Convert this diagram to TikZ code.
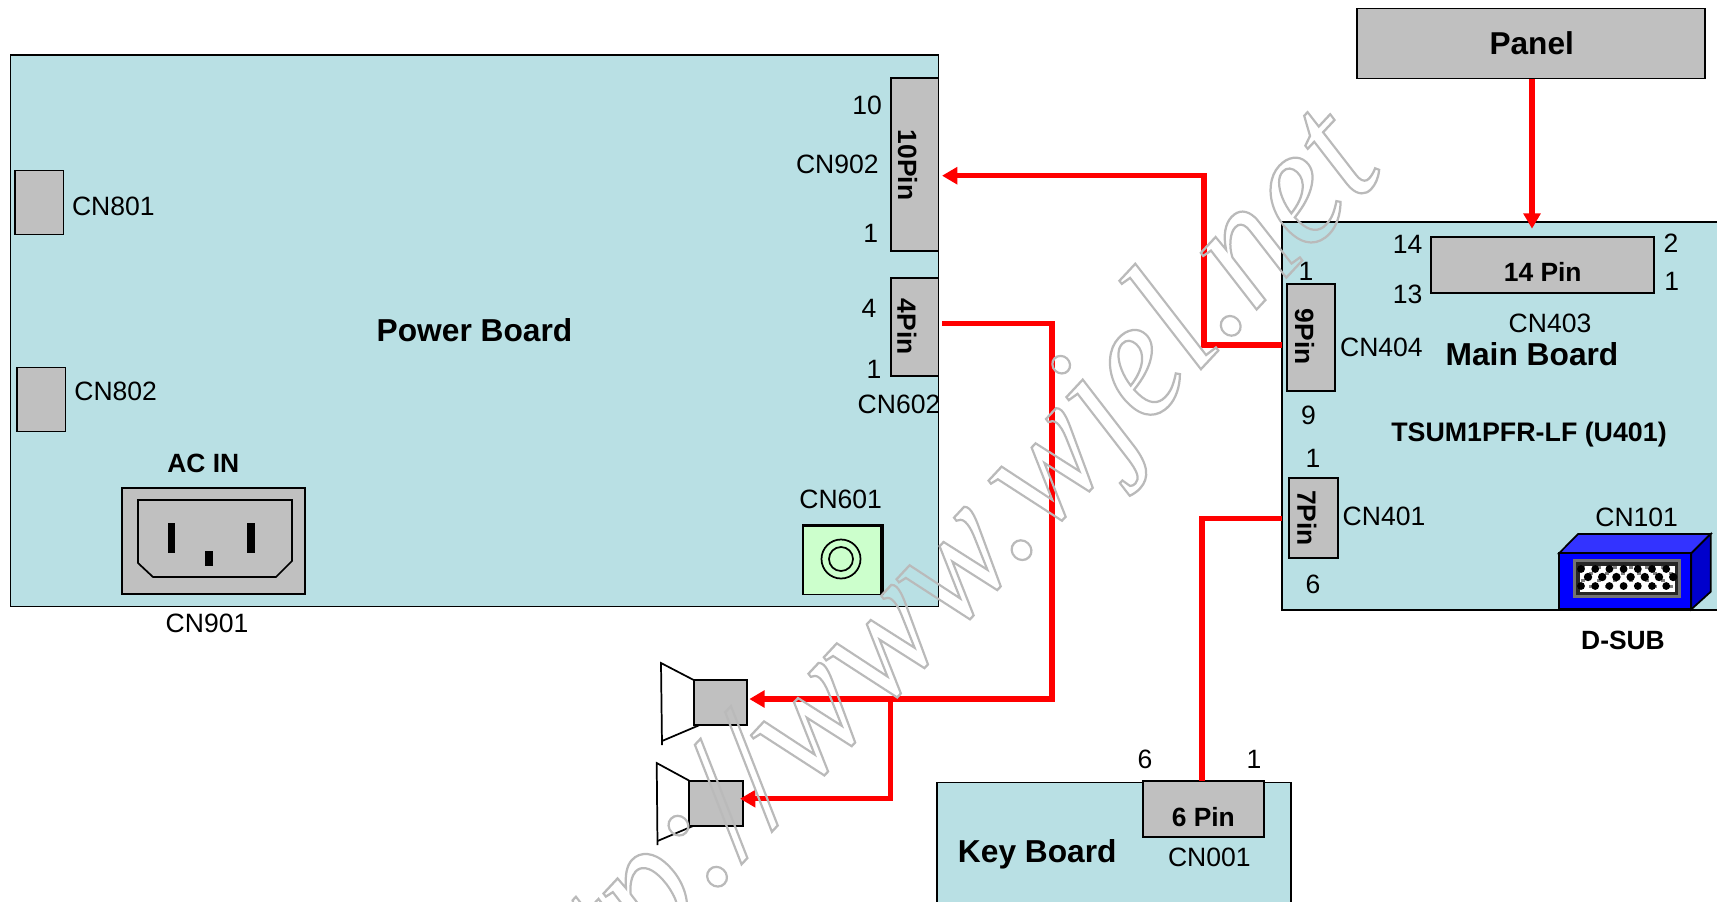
\documentclass[tikz,border=0pt]{standalone}
\usepackage{graphicx}
\usepackage{fontspec}
\setmainfont{Liberation Sans}
\newfontfamily\wmfont{Liberation Serif}
\usetikzlibrary{arrows.meta}
\definecolor{boardc}{HTML}{B9E0E4}
\definecolor{grayc}{HTML}{C0C0C0}
\definecolor{jackc}{HTML}{CCFFCC}
\newcommand{\pxbox}[6]{%
  \pgfmathsetmacro{\bxw}{(#4-#2)*0.75}%
  \pgfmathsetmacro{\bxh}{(#5-#3)*0.75}%
  \node[#6,minimum width=\bxw pt,minimum height=\bxh pt] (#1) at ({(#2+#4)/2},{(#3+#5)/2}) {};}
\tikzset{
  boardbox/.style={draw=black,line width=1.3pt,fill=boardc,inner sep=0pt,outer sep=0pt},
  conbox/.style={draw=black,line width=1.3pt,fill=grayc,inner sep=0pt,outer sep=0pt},
  lbl/.style={inner sep=0pt,font=\fontsize{19.9}{22}\selectfont},
  blbl/.style={inner sep=0pt,font=\fontsize{19.8}{22}\selectfont\bfseries},
  bigl/.style={inner sep=0pt,font=\fontsize{23.8}{26}\selectfont\bfseries},
  wire/.style={draw=red,line width=3.8pt,line join=miter},
  wirearrow/.style={wire,-{Triangle[length=11.5pt,width=12.5pt]}},
  thinl/.style={draw=black,line width=1.3pt},
}
\begin{document}
\begin{tikzpicture}[x=0.75pt,y=-0.75pt]
\useasboundingbox (0,0) rectangle (1717,901);
\begin{scope}
\clip (0,0) rectangle (1717,901);
% boards
\pxbox{power}{10.5}{55}{938.5}{606.5}{boardbox}
\pxbox{mainb}{1281.7}{222}{1740}{610}{boardbox}
\pxbox{keyb}{937}{782.5}{1290.7}{930}{boardbox}
\pxbox{panel}{1357}{8.5}{1705}{78.5}{conbox}
% connectors on boards
\pxbox{pin14}{1431}{237}{1654}{293}{conbox}
\pxbox{pin9}{1287}{284}{1335}{391}{conbox}
\pxbox{pin7}{1289}{478}{1338}{558}{conbox}
\pxbox{pin10}{890.7}{78}{938.5}{251}{conbox}
\pxbox{pin4}{890.7}{278}{938.5}{376}{conbox}
\pxbox{cnA}{15}{170.5}{63.5}{234.5}{conbox}
\pxbox{cnB}{17}{367.5}{65.5}{431.5}{conbox}
\pxbox{pin6}{1143}{781}{1264}{837}{conbox}
% AC inlet
\pxbox{acin}{122}{488}{304.7}{594}{conbox}
\draw[thinl] (138,500) -- (292,500) -- (292,561) -- (276,577) -- (153,577) -- (138,563) -- cycle;
\fill (167.7,522.7) rectangle (175.3,552.7);
\fill (246.7,522.7) rectangle (254.7,552.7);
\fill (205.3,550.7) rectangle (213.3,565.7);
% jack
\pxbox{jack}{803}{525}{882}{594.7}{draw=black,line width=1.1pt,fill=jackc,inner sep=0pt}
\fill (802.5,523.5) rectangle (883.5,527);
\fill (880.2,523.5) rectangle (883.5,595);
\draw[thinl] (841,559) circle[radius=19.5];
\draw[thinl] (841,559) circle[radius=12];
% D-SUB
\filldraw[draw=black,line width=1.3pt,fill={rgb,255:red,51;green,51;blue,255}] (1559,553.3) -- (1578,534) -- (1710.7,534) -- (1691.3,553.3) -- cycle;
\filldraw[draw=black,line width=1.3pt,fill={rgb,255:red,0;green,0;blue,204}] (1691.3,553.3) -- (1710.7,534) -- (1710.7,591.7) -- (1691.3,609.3) -- cycle;
\pxbox{dsub}{1559}{553.3}{1691.3}{609.3}{draw=black,line width=1.3pt,fill=blue,inner sep=0pt}
\fill[black!55] (1573,559.3) rectangle (1681,598);
\fill[black!85] (1576,562) -- (1678,562) -- (1678,595) -- (1576,595) -- cycle;
\fill[white] (1580,565.5) rectangle (1675,591.5);
\foreach \c in {0,...,11}{\foreach \r in {0,...,3}{
  \pgfmathsetmacro{\sx}{1581+8*\c}
  \pgfmathsetmacro{\sy}{566+6.4*\r}
  \pgfmathparse{int(mod(\c+\r,2))}
  \ifnum\pgfmathresult=0 \fill[black!50] (\sx,\sy) rectangle ++(4,3);\fi}}
\foreach \i in {0,...,6}{\fill ({1588+14.2*\i},577) circle[radius=4.2];}
\foreach \i in {0,...,6}{\fill ({1581+14.2*\i},569) circle[radius=3.9];\fill ({1581+14.2*\i},586) circle[radius=3.9];}
% speakers
\pxbox{spkA}{693.7}{680}{746.7}{725.3}{conbox}
\draw[thinl] (693.7,680) -- (661,663) -- (662,745);
\draw[thinl] (662,741) -- (699,725.3);
\pxbox{spkB}{689.3}{780.7}{742.7}{826}{conbox}
\draw[thinl] (689.3,780.7) -- (656.7,763) -- (657.5,845);
\draw[thinl] (657.5,841) -- (693,826);
% wire free ends and bends
\coordinate (tipMain) at (1532,228.7);
\coordinate (tip10) at (942,175.7);
\coordinate (bendA) at (1204,175.7);
\coordinate (bendB) at (1204,345);
\coordinate (start4) at (942,323.3);
\coordinate (bendC) at (1052,323.3);
\coordinate (bendD) at (1052,699);
\coordinate (tipSpkA) at (749.3,699);
\coordinate (branch) at (890.7,699);
\coordinate (bendE) at (890.7,798.7);
\coordinate (tipSpkB) at (740,798.7);
\coordinate (bendF) at (1202,518.3);
\draw[wirearrow] (panel.south -| tipMain) -- (tipMain);
\draw[wirearrow] (mainb.west |- bendB) -- (bendB) -- (bendA) -- (tip10);
\draw[wirearrow] (start4) -- (bendC) -- (bendD) -- (tipSpkA);
\draw[wirearrow] (branch) -- (bendE) -- (tipSpkB);
\draw[wire] (mainb.west |- bendF) -- (bendF) -- (bendF |- pin6.north);
% labels
\node[bigl] (tPower) at (474.5,330) {Power Board};
\node[bigl] (tMain) at (1532,353.7) {Main Board};
\node[bigl] (tKey) at (1037.3,854) {Key Board};
\node[inner sep=0pt,font=\fontsize{23.7}{26}\selectfont\bfseries] (tPanel) at (1531.7,42.7) {Panel};
\node[inner sep=0pt,font=\fontsize{20.1}{22}\selectfont\bfseries] (tTsum) at (1529,434.5) {TSUM1PFR-LF (U401)};
\node[blbl] (t14p) at (1542.7,271.7) {14 Pin};
\node[blbl] (t6p) at (1203.3,816.7) {6 Pin};
\node[blbl] (tAc) at (203.3,463.3) {AC IN};
\node[blbl] (tDs) at (1623,640.7) {D-SUB};
\node[blbl,rotate=-90] (t10p) at (907.5,165) {10Pin};
\node[blbl,rotate=-90] (t4p) at (907,326.7) {4Pin};
\node[blbl,rotate=-90] (t9p) at (1304.5,336.7) {9Pin};
\node[blbl,rotate=-90] (t7p) at (1307,518) {7Pin};
\node[lbl] (a1) at (867,105.7) {10};
\node[lbl] (a2) at (837.3,164) {CN902};
\node[lbl] (a3) at (870.7,233.7) {1};
\node[lbl] (a4) at (869,308) {4};
\node[lbl] (a5) at (874,369.7) {1};
\node[lbl] (a6) at (899,404) {CN602};
\node[lbl] (a7) at (1306,271.7) {1};
\node[lbl] (a8) at (1381.4,347) {CN404};
\node[lbl] (a9) at (1308.5,415.5) {9};
\node[lbl] (a10) at (1313,458.8) {1};
\node[lbl] (a11) at (1384,516) {CN401};
\node[lbl] (a12) at (1313,584.7) {6};
\node[lbl] (a13) at (1636.7,517.7) {CN101};
\node[lbl] (a14) at (1550,323.7) {CN403};
\node[lbl] (a15) at (1407.7,244) {14};
\node[lbl] (a16) at (1407.7,294) {13};
\node[lbl] (a17) at (1671,243) {2};
\node[lbl] (a18) at (1671.7,281.7) {1};
\node[lbl] (a19) at (113.3,206) {CN801};
\node[lbl] (a20) at (115.7,391) {CN802};
\node[lbl] (a21) at (207,623.7) {CN901};
\node[lbl] (a22) at (840.7,499) {CN601};
\node[lbl] (a23) at (1145,759) {6};
\node[lbl] (a24) at (1254,759) {1};
\node[lbl] (a25) at (1209.3,857) {CN001};
% watermark
\node[inner sep=0pt,anchor=base west,rotate=47] (wm) at (539,1079)
  {\scalebox{1}[1.08]{\special{pdf:code q 1 Tr 1.6 w 0.73 G}\wmfont\itshape\fontsize{120}{120}\selectfont http://www.wjel.net\special{pdf:code Q}}};
\end{scope}
\end{tikzpicture}
\end{document}
